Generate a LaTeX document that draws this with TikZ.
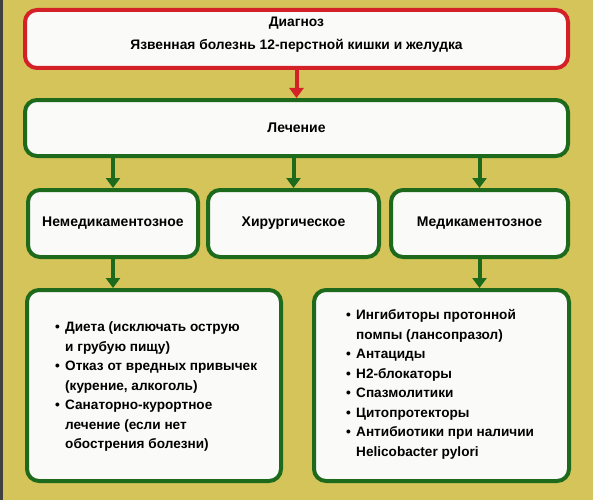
\documentclass[tikz,border=0pt]{standalone}
\usepackage{fontspec}
\setmainfont{Liberation Sans}
\usetikzlibrary{arrows.meta}
\definecolor{bg}{HTML}{D4C45A}
\definecolor{rd}{HTML}{D42027}
\definecolor{gr}{HTML}{1E6A1C}
\definecolor{boxfill}{HTML}{FAFAF8}
\newcommand{\bul}{\makebox[10pt][l]{•}}
\newcommand{\ind}{\hspace*{10pt}}
\begin{document}
\begin{tikzpicture}[x=1pt,y=-1pt,
  box/.style={draw=gr, line width=4pt, fill=boxfill, rounded corners=12pt, inner sep=0pt},
  redbox/.style={box, draw=rd},
  lbl/.style={font=\bfseries\fontsize{14}{16}\selectfont, text=black},
  lst/.style={font=\bfseries\fontsize{13.6}{19.5}\selectfont, align=left, anchor=north west, inner sep=0pt, text=black},
  arr/.style={draw=gr, line width=4pt, -{Triangle[width=14pt,length=10pt]}},
  rarr/.style={arr, draw=rd, fill=rd}
]
\useasboundingbox (0,0) rectangle (593,500);
\fill[bg] (0,0) rectangle (593,500);
\fill[black!75] (0,0) rectangle (3,500);

\node[redbox, minimum width=543pt, minimum height=58pt] (diag) at (296.5,39) {};
\node[lbl, align=center, font=\bfseries\fontsize{13.8}{23}\selectfont] (diagt) at (296.5,35) {Диагноз\\Язвенная болезнь 12-перстной кишки и желудка};

\node[box, minimum width=543pt, minimum height=56pt] (lech) at (296.5,128) {};
\node[lbl] (lecht) at (296.5,128) {Лечение};

\node[box, minimum width=170pt, minimum height=67pt] (m1) at (113,223.5) {};
\node[box, minimum width=171pt, minimum height=67pt] (m2) at (293.5,223.5) {};
\node[box, minimum width=177pt, minimum height=67pt] (m3) at (479.5,223.5) {};
\node[lbl] (m1t) at (m1) {Немедикаментозное};
\node[lbl] (m2t) at (m2) {Хирургическое};
\node[lbl] (m3t) at (m3) {Медикаментозное};

\node[box, minimum width=254pt, minimum height=191pt] (b1) at (154,385.5) {};
\node[box, minimum width=255pt, minimum height=191pt] (b2) at (441.5,385.5) {};

\node[lst] (l1) at (55,321.5) {\bul Диета (исключать острую\\
\ind и грубую пищу)\\
\bul Отказ от вредных привычек\\
\ind (курение, алкоголь)\\
\bul Санаторно-курортное\\
\ind лечение (если нет\\
\ind обострения болезни)};

\node[lst] (l2) at (346,309.5) {\bul Ингибиторы протонной\\
\ind помпы (лансопразол)\\
\bul Антациды\\
\bul H2-блокаторы\\
\bul Спазмолитики\\
\bul Цитопротекторы\\
\bul Антибиотики при наличии\\
\ind Helicobacter pylori};

\draw[rarr] (diag.south) -- (lech.north);
\draw[arr] (lech.south -| m1) -- (m1.north);
\draw[arr] (lech.south -| m2) -- (m2.north);
\draw[arr] (lech.south -| m3) -- (m3.north);
\draw[arr] (m1.south) -- (m1.south |- b1.north);
\draw[arr] (m3.south) -- (m3.south |- b2.north);
\end{tikzpicture}
\end{document}
